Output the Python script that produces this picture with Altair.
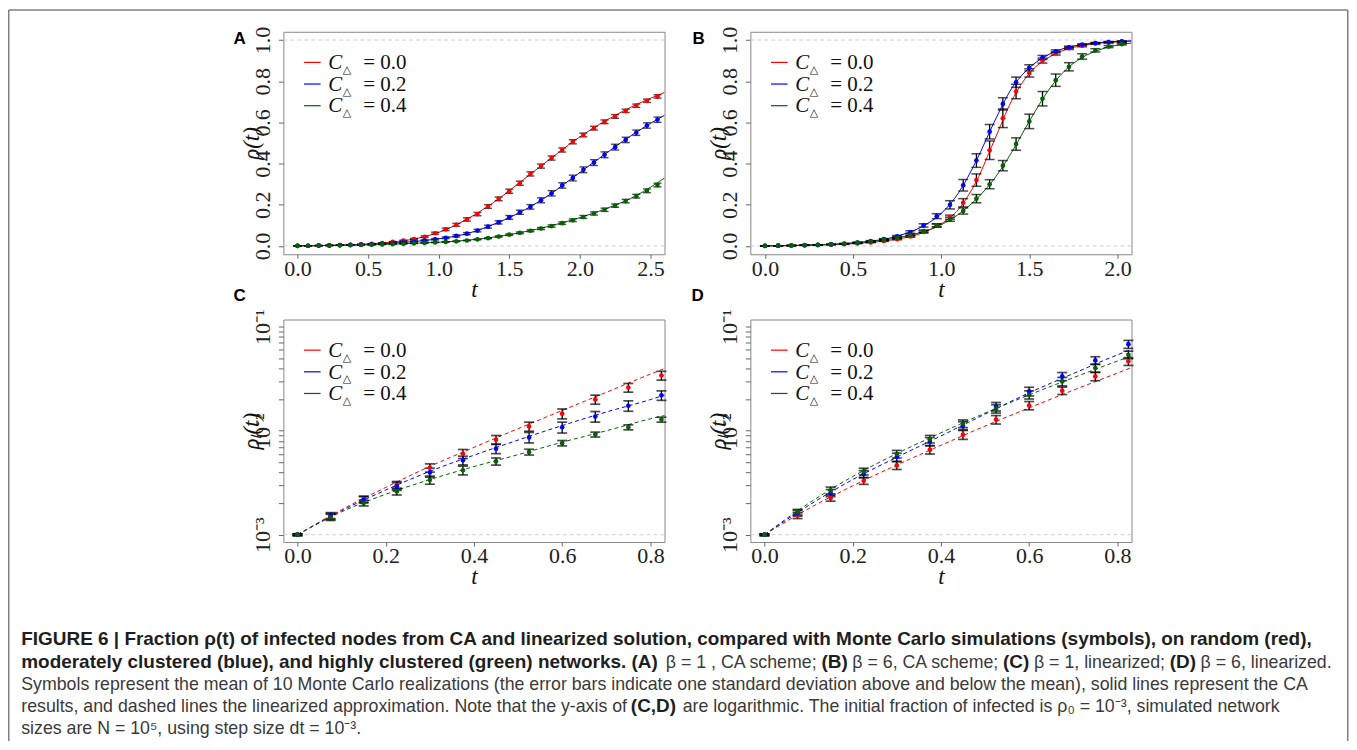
import altair as alt
import pandas as pd

# ---------------- data ----------------
LABELS = ["0.0", "0.2", "0.4"]
COLORS = ["#ff0000", "#0000ff", "#006400"]

t_A = [0.0, 0.075, 0.15, 0.225, 0.3, 0.375, 0.45, 0.525, 0.6, 0.675, 0.75, 0.825,
       0.9, 0.975, 1.05, 1.125, 1.2, 1.275, 1.35, 1.425, 1.5, 1.575, 1.65, 1.725,
       1.8, 1.875, 1.95, 2.025, 2.1, 2.175, 2.25, 2.325, 2.4, 2.475, 2.55]
rho_A_red = [0.001, 0.0015, 0.0022, 0.003, 0.0044, 0.006, 0.0082, 0.011, 0.0146, 0.02, 0.026, 0.034,
             0.045, 0.062, 0.081, 0.103, 0.129, 0.155, 0.192, 0.229, 0.266, 0.305, 0.35, 0.388,
             0.427, 0.466, 0.506, 0.539, 0.572, 0.603, 0.629, 0.656, 0.681, 0.705, 0.726]
rho_A_blue = [0.001, 0.00153, 0.00217, 0.00292, 0.00397, 0.00519, 0.00672, 0.00863, 0.0108, 0.0137, 0.0174, 0.0219,
              0.027, 0.033, 0.04, 0.049, 0.06, 0.075, 0.094, 0.115, 0.139, 0.164, 0.19, 0.222,
              0.256, 0.294, 0.33, 0.37, 0.405, 0.443, 0.48, 0.515, 0.55, 0.585, 0.613]
rho_A_green = [0.001, 0.00147, 0.00202, 0.00261, 0.00336, 0.00416, 0.00507, 0.00624, 0.0076, 0.0092, 0.0108, 0.0128,
               0.015, 0.0175, 0.02, 0.023, 0.027, 0.032, 0.038, 0.046, 0.055, 0.064, 0.074, 0.085,
               0.097, 0.111, 0.125, 0.141, 0.158, 0.176, 0.196, 0.218, 0.242, 0.268, 0.296]
std_A_red = [0.00002, 0.0001, 0.00015, 0.00025, 0.0004, 0.0006, 0.0008, 0.0011, 0.0016, 0.002, 0.0025, 0.0033,
             0.004, 0.005, 0.006, 0.007, 0.008, 0.008, 0.009, 0.009, 0.01, 0.01, 0.01, 0.01,
             0.01, 0.01, 0.01, 0.009, 0.009, 0.009, 0.009, 0.008, 0.008, 0.008, 0.008]
std_A_blue = [0.00002, 0.0001, 0.00015, 0.00025, 0.0004, 0.0005, 0.0007, 0.001, 0.0013, 0.0016, 0.002, 0.0023,
              0.003, 0.0035, 0.004, 0.005, 0.005, 0.006, 0.007, 0.008, 0.009, 0.01, 0.011, 0.012,
              0.013, 0.013, 0.014, 0.014, 0.014, 0.014, 0.014, 0.013, 0.013, 0.013, 0.013]
std_A_green = [0.00002, 0.0001, 0.00013, 0.0002, 0.0003, 0.0004, 0.0004, 0.0004, 0.00045, 0.0005, 0.0006, 0.0007,
               0.0008, 0.001, 0.0012, 0.0014, 0.0016, 0.002, 0.0025, 0.003, 0.0035, 0.004, 0.0045, 0.005,
               0.0055, 0.006, 0.0065, 0.007, 0.0075, 0.008, 0.008, 0.0085, 0.009, 0.009, 0.009]

tl_A = [0.0, 0.2, 0.4, 0.6, 0.8, 1.0, 1.2, 1.4, 1.6, 1.8, 2.0, 2.2, 2.4, 2.6]
ca_A_red = [0.001, 0.0027, 0.0066, 0.0152, 0.031, 0.066, 0.13, 0.217, 0.322, 0.428, 0.53, 0.615, 0.687, 0.745]
ca_A_blue = [0.001, 0.0027, 0.0057, 0.0109, 0.0205, 0.035, 0.06, 0.108, 0.172, 0.256, 0.357, 0.457, 0.553, 0.635]
ca_A_green = [0.001, 0.0024, 0.0044, 0.0076, 0.0122, 0.0185, 0.028, 0.044, 0.068, 0.099, 0.138, 0.185, 0.245, 0.33]

t_B = [0.0, 0.075, 0.15, 0.225, 0.3, 0.375, 0.45, 0.525, 0.6, 0.675, 0.75, 0.825,
       0.9, 0.975, 1.05, 1.125, 1.2, 1.275, 1.35, 1.425, 1.5, 1.575, 1.65, 1.725,
       1.8, 1.875, 1.95, 2.025]
rho_B_red = [0.001, 0.00153, 0.00225, 0.0033, 0.00464, 0.00657, 0.00916, 0.0128, 0.0175, 0.0243, 0.0333, 0.0465,
             0.068, 0.1, 0.14, 0.21, 0.32, 0.465, 0.62, 0.75, 0.84, 0.9, 0.935, 0.96,
             0.972, 0.983, 0.988, 0.991]
rho_B_blue = [0.001, 0.00161, 0.00252, 0.00383, 0.00558, 0.00789, 0.0112, 0.0171, 0.0239, 0.0333, 0.0475, 0.068,
              0.1, 0.145, 0.2, 0.295, 0.415, 0.555, 0.69, 0.795, 0.865, 0.915, 0.945, 0.965,
              0.978, 0.985, 0.99, 0.993]
rho_B_green = [0.001, 0.00165, 0.00267, 0.00406, 0.00597, 0.00832, 0.0117, 0.0163, 0.0222, 0.0298, 0.0401, 0.0538,
               0.072, 0.1, 0.13, 0.17, 0.23, 0.3, 0.39, 0.495, 0.605, 0.715, 0.805, 0.87,
               0.92, 0.95, 0.968, 0.98]
std_B_red = [0.00002, 0.0001, 0.00015, 0.00025, 0.0004, 0.0006, 0.0009, 0.0012, 0.0016, 0.002, 0.003, 0.004,
             0.005, 0.007, 0.01, 0.02, 0.03, 0.045, 0.045, 0.035, 0.02, 0.012, 0.008, 0.006,
             0.005, 0.004, 0.003, 0.003]
std_B_blue = [0.00002, 0.0001, 0.0002, 0.0003, 0.0005, 0.0007, 0.001, 0.0016, 0.0023, 0.003, 0.004, 0.006,
              0.008, 0.012, 0.02, 0.028, 0.033, 0.035, 0.03, 0.025, 0.015, 0.01, 0.007, 0.005,
              0.004, 0.003, 0.003, 0.003]
std_B_green = [0.00002, 0.0001, 0.0002, 0.0003, 0.0005, 0.0007, 0.001, 0.0015, 0.002, 0.0028, 0.0035, 0.0045,
               0.006, 0.008, 0.01, 0.015, 0.02, 0.022, 0.025, 0.03, 0.035, 0.035, 0.03, 0.02,
               0.013, 0.008, 0.005, 0.004]

tl_B = [0.0, 0.1, 0.2, 0.3, 0.4, 0.5, 0.6, 0.7, 0.8, 0.9, 1.0, 1.1, 1.2, 1.3, 1.4,
        1.5, 1.6, 1.7, 1.8, 1.9, 2.0, 2.08]
ca_B_red = [0.001, 0.00175, 0.0029, 0.0046, 0.0074, 0.0115, 0.0176, 0.027, 0.041, 0.066, 0.108, 0.18,
            0.315, 0.51, 0.705, 0.838, 0.91, 0.952, 0.973, 0.985, 0.991, 0.994]
ca_B_blue = [0.001, 0.0019, 0.0033, 0.0055, 0.0088, 0.0145, 0.0235, 0.037, 0.061, 0.098, 0.158, 0.26,
             0.415, 0.6, 0.765, 0.865, 0.925, 0.96, 0.978, 0.988, 0.993, 0.996]
ca_B_green = [0.001, 0.0019, 0.0035, 0.0059, 0.0093, 0.0145, 0.022, 0.032, 0.048, 0.07, 0.103, 0.155,
              0.228, 0.325, 0.455, 0.605, 0.745, 0.85, 0.915, 0.953, 0.975, 0.985]

# panels C and D: same Monte Carlo runs, early times, linearized solution (dashed)
n_CD = 12
tl_CD = [0.0, 0.1, 0.2, 0.3, 0.4, 0.5, 0.6, 0.7, 0.8, 0.833]
lin_C_red = [0.001, 0.00174, 0.00285, 0.00454, 0.00692, 0.01047, 0.01567, 0.02344, 0.03508, 0.0398]
lin_C_blue = [0.001, 0.0017, 0.00269, 0.00407, 0.00582, 0.00813, 0.01122, 0.01514, 0.01995, 0.02213]
lin_C_green = [0.001, 0.00166, 0.00245, 0.00339, 0.00452, 0.00589, 0.00776, 0.01, 0.01303, 0.01403]
lin_D_red = [0.001, 0.00178, 0.00295, 0.00468, 0.00724, 0.01109, 0.0166, 0.02455, 0.03589, 0.04074]
lin_D_blue = [0.001, 0.00191, 0.00339, 0.00556, 0.00891, 0.01445, 0.02317, 0.03548, 0.0537, 0.06095]
lin_D_green = [0.001, 0.002, 0.00363, 0.00603, 0.00955, 0.01479, 0.02213, 0.03236, 0.04677, 0.05248]

CAPTION_BOLD_1 = "FIGURE 6 | Fraction \u03c1(t) of infected nodes from CA and linearized solution, compared with Monte Carlo simulations (symbols), on random (red),"
CAPTION_2 = [("moderately clustered (blue), and highly clustered (green) networks. (A)", "bold", 20),
             ("\u03b2 = 1 , CA scheme;", "normal", 666),
             ("(B)", "bold", 822),
             ("\u03b2 = 6, CA scheme;", "normal", 853),
             ("(C)", "bold", 1004),
             ("\u03b2 = 1, linearized;", "normal", 1035),
             ("(D)", "bold", 1171),
             ("\u03b2 = 6, linearized.", "normal", 1202)]
CAPTION_3 = "Symbols represent the mean of 10 Monte Carlo realizations (the error bars indicate one standard deviation above and below the mean), solid lines represent the CA"
CAPTION_4 = [("results, and dashed lines the linearized approximation. Note that the y-axis of", "normal", 20),
             ("(C,D)", "bold", 631),
             ("are logarithmic. The initial fraction of infected is \u03c1\u2080 = 10\u207b\u00b3, simulated network", "normal", 683)]
CAPTION_5 = "sizes are N = 10\u2075, using step size dt = 10\u207b\u00b3."

# ---------------- helpers ----------------
SERIF = "Liberation Serif"
SANS = "Liberation Sans"
W, H = 382, 223
HSP, VSP = 86, 65.4


def points_frame(t, vals, stds):
    rows = []
    for lab, vs, ss in zip(LABELS, vals, stds):
        for tt, v, s in zip(t, vs, ss):
            rows.append({"t": tt, "rho": v, "lo": v - s, "hi": v + s, "C": lab})
    return pd.DataFrame(rows)


def lines_frame(t, vals):
    rows = []
    for lab, vs in zip(LABELS, vals):
        for tt, v in zip(t, vs):
            rows.append({"t": tt, "rho": v, "C": lab})
    return pd.DataFrame(rows)


def one():
    return pd.DataFrame({"k": [0]})


XAX = dict(labelFont=SERIF, labelFontSize=22, labelColor="#222", labelBaseline="alphabetic",
           labelPadding=17, labelOverlap=False, labelFlush=False, tickColor="#666", tickSize=4,
           domain=False, grid=False, titleFont=SERIF, titleFontStyle="italic",
           titleFontWeight="normal", titleFontSize=23, titleColor="#111",
           titleBaseline="alphabetic", titleX=W / 2, titleY=42)
YAX = dict(labelFont=SERIF, labelFontSize=22, labelColor="#222", labelAngle=270,
           labelAlign="center", labelBaseline="alphabetic", labelPadding=8.5,
           labelOverlap=False, labelFlush=False, tickColor="#666", tickSize=5,
           domain=False, grid=False, titleFont=SERIF, titleFontStyle="italic",
           titleFontWeight="normal", titleFontSize=23, titleColor="#111", titleAngle=270,
           titleAlign="center", titleBaseline="alphabetic", titleX=-25, titleY=H / 2)


def panel(pts, lns, xdom, xvals, ydom, log, dashed, letter, lx, ly, cap, capw, refs):
    xscale = alt.Scale(domain=xdom, nice=False, zero=False)
    if log:
        yscale = alt.Scale(type="log", domain=ydom, nice=False)
        minor = [0.001, 0.002, 0.003, 0.004, 0.005, 0.006, 0.007, 0.008, 0.009,
                 0.01, 0.02, 0.03, 0.04, 0.05, 0.06, 0.07, 0.08, 0.09, 0.1]
        yaxis = alt.Axis(values=minor,
                         labelExpr="datum.value == 0.001 ? '10\u207b\u00b3' : (datum.value == 0.01 ? '10\u207b\u00b2' : (datum.value == 0.1 ? '10\u207b\u00b9' : ''))",
                         title="\u03c1\u2097(t)", **YAX)
    else:
        yscale = alt.Scale(domain=ydom, nice=False, zero=False)
        yaxis = alt.Axis(values=[0, 0.2, 0.4, 0.6, 0.8, 1.0], format=".1f", title="\u03c1(t)", **YAX)
    xaxis = alt.Axis(values=xvals, format=".1f", title="t", **XAX)
    color = alt.Color("C:N", scale=alt.Scale(domain=LABELS, range=COLORS), legend=None)

    def X():
        return alt.X("t:Q", scale=xscale, axis=xaxis)

    def Y(f):
        return alt.Y(f + ":Q", scale=yscale, axis=yaxis)

    layers = []
    refdf = pd.DataFrame({"rho": refs})
    layers.append(alt.Chart(refdf).mark_rule(color="#cfcfcf", strokeDash=[4, 3], strokeWidth=1)
                  .encode(y=Y("rho")))
    line_kw = dict(strokeWidth=1, clip=True, interpolate="monotone")
    if dashed:
        line_kw["strokeDash"] = [4, 3]
    layers.append(alt.Chart(lns).mark_line(**line_kw).encode(x=X(), y=Y("rho"), color=color))
    layers.append(alt.Chart(pts).mark_rule(color="black", strokeWidth=1.3)
                  .encode(x=X(), y=Y("lo"), y2="hi"))
    layers.append(alt.Chart(pts).mark_tick(color="black", orient="horizontal", size=cap, thickness=capw)
                  .encode(x=X(), y=Y("lo")))
    layers.append(alt.Chart(pts).mark_tick(color="black", orient="horizontal", size=cap, thickness=capw)
                  .encode(x=X(), y=Y("hi")))
    layers.append(alt.Chart(pts).mark_circle(size=22, opacity=1)
                  .encode(x=X(), y=Y("rho"), color=color))
    # legend
    for i, (lab, col) in enumerate(zip(LABELS, COLORS)):
        yy = 30.7 + 21.7 * i
        layers.append(alt.Chart(one()).mark_rule(color=col, strokeWidth=1.2)
                      .encode(x=alt.value(20.7), x2=alt.value(37.3), y=alt.value(yy)))
        layers.append(alt.Chart(one()).mark_text(font=SERIF, fontStyle="italic", fontSize=21,
                                                 align="left", baseline="alphabetic", color="#111")
                      .encode(x=alt.value(45), y=alt.value(yy + 6.8), text=alt.value("C")))
        layers.append(alt.Chart(one()).mark_text(font="DejaVu Sans", fontSize=11,
                                                 align="left", baseline="alphabetic", color="#111")
                      .encode(x=alt.value(59.5), y=alt.value(yy + 10.5), text=alt.value("\u25b3")))
        layers.append(alt.Chart(one()).mark_text(font=SERIF, fontSize=21,
                                                 align="left", baseline="alphabetic", color="#111")
                      .encode(x=alt.value(80), y=alt.value(yy + 6.8), text=alt.value("= " + lab)))
    layers.append(alt.Chart(one()).mark_text(font=SANS, fontWeight="bold", fontSize=17,
                                             align="left", baseline="alphabetic", color="black")
                  .encode(x=alt.value(lx), y=alt.value(ly), text=alt.value(letter)))
    return alt.layer(*layers).properties(width=W, height=H)


pA = panel(points_frame(t_A, [rho_A_red, rho_A_blue, rho_A_green], [std_A_red, std_A_blue, std_A_green]),
           lines_frame(tl_A, [ca_A_red, ca_A_blue, ca_A_green]),
           [-0.1, 2.6], [0, 0.5, 1.0, 1.5, 2.0, 2.5], [-0.04, 1.04], False, False,
           "A", -50, 12.7, 8, 1.4, [0.0, 1.0])
pB = panel(points_frame(t_B, [rho_B_red, rho_B_blue, rho_B_green], [std_B_red, std_B_blue, std_B_green]),
           lines_frame(tl_B, [ca_B_red, ca_B_blue, ca_B_green]),
           [-0.083, 2.08], [0, 0.5, 1.0, 1.5, 2.0], [-0.04, 1.04], False, False,
           "B", -58, 12.7, 10, 1.5, [0.0, 1.0])
pC = panel(points_frame(t_A[:n_CD], [rho_A_red[:n_CD], rho_A_blue[:n_CD], rho_A_green[:n_CD]],
                        [std_A_red[:n_CD], std_A_blue[:n_CD], std_A_green[:n_CD]]),
           lines_frame(tl_CD, [lin_C_red, lin_C_blue, lin_C_green]),
           [-0.032, 0.832], [0, 0.2, 0.4, 0.6, 0.8], [0.00085, 0.1175], True, True,
           "C", -50, -18.4, 10, 1.7, [0.001])
pD = panel(points_frame(t_B[:n_CD], [rho_B_red[:n_CD], rho_B_blue[:n_CD], rho_B_green[:n_CD]],
                        [std_B_red[:n_CD], std_B_blue[:n_CD], std_B_green[:n_CD]]),
           lines_frame(tl_CD, [lin_D_red, lin_D_blue, lin_D_green]),
           [-0.032, 0.832], [0, 0.2, 0.4, 0.6, 0.8], [0.00085, 0.1175], True, True,
           "D", -59, -18.4, 10, 1.7, [0.001])

# ---------------- caption ----------------
CX0 = 282.75          # reference x of caption-view origin
CY0 = 29.3 + 2 * H + 2 * VSP  # reference y of caption-view origin


def ctext(txt, xref, yref, weight, size, color):
    return (alt.Chart(one()).mark_text(font=SANS, fontWeight=weight, fontSize=size, align="left",
                                       baseline="alphabetic", color=color)
            .encode(x=alt.value(xref - CX0), y=alt.value(yref - CY0), text=alt.value(txt)))


BOLD_SIZE, REG_SIZE = 19.0, 17.8
BOLD_COL, REG_COL = "#1e1e1e", "#3a3a3a"
cap_layers = [ctext(CAPTION_BOLD_1, 20, 644, "bold", BOLD_SIZE, BOLD_COL)]
for txt, w, xr in CAPTION_2:
    cap_layers.append(ctext(txt, xr, 666.5, w, BOLD_SIZE if w == "bold" else REG_SIZE,
                            BOLD_COL if w == "bold" else REG_COL))
cap_layers.append(ctext(CAPTION_3, 20, 689, "normal", REG_SIZE, REG_COL))
for txt, w, xr in CAPTION_4:
    cap_layers.append(ctext(txt, xr, 711, w, BOLD_SIZE if w == "bold" else REG_SIZE,
                            BOLD_COL if w == "bold" else REG_COL))
cap_layers.append(ctext(CAPTION_5, 20, 733.5, "normal", REG_SIZE, REG_COL))

FR = "#808080"
cap_layers.append(alt.Chart(one()).mark_rule(color=FR, strokeWidth=1.5)
                  .encode(x=alt.value(7.5 - CX0), y=alt.value(7.5 - CY0), y2=alt.value(740 - CY0)))
cap_layers.append(alt.Chart(one()).mark_rule(color=FR, strokeWidth=1.5)
                  .encode(x=alt.value(1349.5 - CX0), y=alt.value(7.5 - CY0), y2=alt.value(740 - CY0)))
cap_layers.append(alt.Chart(one()).mark_rule(color=FR, strokeWidth=1.5)
                  .encode(x=alt.value(7.5 - CX0), x2=alt.value(1349.5 - CX0), y=alt.value(7.5 - CY0)))

caption = alt.layer(*cap_layers).properties(width=W, height=100,
                                            view=alt.ViewBackground(strokeOpacity=0))

chart = (alt.concat(pA, pB, pC, pD, caption, columns=2,
                    spacing=alt.RowColnumber(row=VSP, column=HSP), bounds="flush")
         .properties(padding=0, background="white")
         .configure_view(stroke="#888888", strokeWidth=1))

chart.save("out.html", embed_options={"renderer": "svg", "actions": False})
